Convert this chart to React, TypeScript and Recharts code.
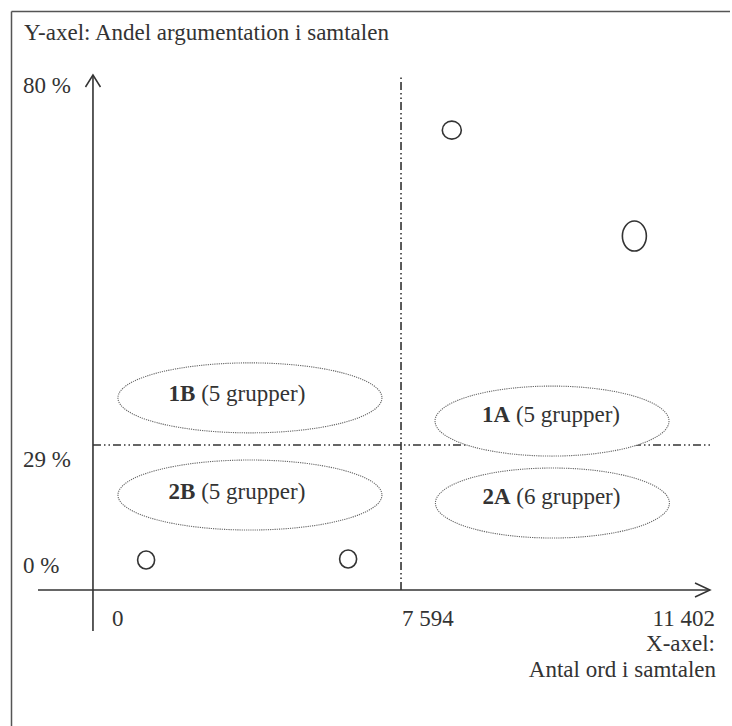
import { ScatterChart, Scatter, XAxis, YAxis, ReferenceLine } from "recharts";

const FONT = '"Liberation Serif", "Times New Roman", serif';
const INK = "#333";

// quadrant groups: x = antal ord i samtalen, y = andel argumentation (%)
const groupNames = ["1B", "1A", "2B", "2A"];
const groupSizes = [5, 5, 5, 6];
const groupWords = [3870, 9455, 3870, 9460];
const groupShare = [35.5, 32.3, 19.0, 17.4];

// single groups drawn as small circles
const outlierWords = [1310, 6290, 8220, 10470];
const outlierShare = [6.0, 6.2, 72.4, 57.8];

const xTicks = [0, 7594, 11402];
const yTicks = [0, 29, 80];
const medianWords = 7594;
const medianShare = 29;

// --- layout ---
const W = 732;
const H = 726;
const MARGIN = { top: 75, right: 22, bottom: 93, left: 36 };

// the figure is not drawn to scale: where each tick value sits along the plot (0..1)
const X_POS = [0.0818, 0.5402, 1];
const Y_POS = [0.0737, 0.3345, 1];

const spanThrough = (v0: number, f0: number, v1: number, f1: number): [number, number] => {
  const k = (v1 - v0) / (f1 - f0);
  return [v0 - f0 * k, v0 + (1 - f0) * k];
};

const X_DOMAIN = {
  lo: spanThrough(xTicks[0], X_POS[0], xTicks[1], X_POS[1]),
  hi: spanThrough(xTicks[1], X_POS[1], xTicks[2], X_POS[2]),
};
const Y_DOMAIN = {
  lo: spanThrough(yTicks[0], Y_POS[0], yTicks[1], Y_POS[1]),
  hi: spanThrough(yTicks[1], Y_POS[1], yTicks[2], Y_POS[2]),
};

type Side = "lo" | "hi";
const SIDES: Side[] = ["lo", "hi"];
const sideX = (v: number): Side => (v < medianWords ? "lo" : "hi");
const sideY = (v: number): Side => (v < medianShare ? "lo" : "hi");
const COMBOS: [Side, Side][] = [
  ["lo", "lo"],
  ["lo", "hi"],
  ["hi", "lo"],
  ["hi", "hi"],
];

const groups = groupNames.map((name, i) => ({ name, size: groupSizes[i], x: groupWords[i], y: groupShare[i] }));
const outliers = outlierWords.map((x, i) => ({ id: i, x, y: outlierShare[i] }));

const medianH = [
  { x: 0, y: medianShare },
  { x: X_DOMAIN.lo[1], y: medianShare },
];
const medianV = [
  { x: medianWords, y: 0 },
  { x: medianWords, y: Y_DOMAIN.lo[1] },
];

const fmtNum = (v: number) => String(v).replace(/\B(?=(\d{3})+(?!\d))/g, " ");

// styles
const DASH_DOT = "8 3 1.5 3 1.5 3";
const MEDIAN_LINE = { stroke: INK, strokeWidth: 1.6, strokeDasharray: DASH_DOT };
const X_TICK_STYLE = [
  { anchor: "start", dx: 19 },
  { anchor: "start", dx: 1 },
  { anchor: "end", dx: 5 },
];
const X_TICK_BASELINE = 626;
const Y_TICK_DY = [-17, 22, 18];
const Y_TICK_X = 23;
const ELLIPSE_STYLE: Record<string, { rx: number; ry: number; dx: number; dy: number }> = {
  B: { rx: 132, ry: 35, dx: -13, dy: 3.5 },
  A: { rx: 117, ry: 35, dx: -1, dy: 0.5 },
};
const OUTLIER_R = [
  [8.5, 9],
  [8.5, 9],
  [9.5, 9],
  [12, 15],
];

const XTick = (p: any) => {
  const i = xTicks.indexOf(p.payload.value);
  const st = X_TICK_STYLE[i];
  return (
    <text x={p.x + st.dx} y={X_TICK_BASELINE} textAnchor={st.anchor} fontFamily={FONT} fontSize={23} fill={INK}>
      {fmtNum(p.payload.value)}
    </text>
  );
};

const YTick = (p: any) => {
  const i = yTicks.indexOf(p.payload.value);
  return (
    <text x={Y_TICK_X} y={p.y + Y_TICK_DY[i]} textAnchor="start" fontFamily={FONT} fontSize={23} fill={INK}>
      {`${p.payload.value} %`}
    </text>
  );
};

const HArrow = (p: any) => {
  const x1 = Math.min(p.x1, p.x2);
  const x2 = Math.max(p.x1, p.x2);
  const y = p.y1;
  return (
    <g>
      <line x1={x1} y1={y} x2={x2} y2={y} stroke={INK} strokeWidth={1.6} />
      <polyline points={`${x2 - 15},${y - 7} ${x2},${y} ${x2 - 15},${y + 7}`} fill="none" stroke={INK} strokeWidth={1.5} />
    </g>
  );
};

const VArrow = (p: any) => {
  const y1 = Math.min(p.y1, p.y2);
  const y2 = Math.max(p.y1, p.y2);
  const x = p.x1;
  return (
    <g>
      <line x1={x} y1={y1} x2={x} y2={y2} stroke={INK} strokeWidth={1.6} />
      <polyline points={`${x - 7.5},${y1 + 12} ${x},${y1} ${x + 7.5},${y1 + 12}`} fill="none" stroke={INK} strokeWidth={1.5} />
    </g>
  );
};

const NoDot = () => <g />;

// ellipses are filled white so the median line disappears behind 1A, as in the original
const GroupShape = (p: any) => {
  const { name, size } = p.payload;
  const st = ELLIPSE_STYLE[name.endsWith("B") ? "B" : "A"];
  return (
    <g>
      <ellipse cx={p.cx} cy={p.cy} rx={st.rx} ry={st.ry} fill="#fff" stroke="#666" strokeWidth={1.1} strokeDasharray="1.2 1" />
      <text x={p.cx + st.dx} y={p.cy + st.dy} textAnchor="middle" fontFamily={FONT} fontSize={23} fill={INK}>
        <tspan fontWeight="bold">{name}</tspan> ({size} grupper)
      </text>
    </g>
  );
};

const OutlierShape = (p: any) => {
  const [rx, ry] = OUTLIER_R[p.payload.id];
  return <ellipse cx={p.cx} cy={p.cy} rx={rx} ry={ry} fill="none" stroke={INK} strokeWidth={1.6} />;
};

// same axes in both layers so the plot areas line up
const axes = (withTicks: boolean) => [
  ...SIDES.map((s) => (
    <XAxis
      key={`x-${s}`}
      xAxisId={s}
      type="number"
      dataKey="x"
      domain={X_DOMAIN[s]}
      allowDataOverflow
      ticks={xTicks.filter((v) => (s === "lo" ? v <= medianWords : v > medianWords))}
      interval={0}
      height={1}
      axisLine={false}
      tickLine={false}
      tick={withTicks ? XTick : false}
    />
  )),
  ...SIDES.map((s) => (
    <YAxis
      key={`y-${s}`}
      yAxisId={s}
      type="number"
      dataKey="y"
      domain={Y_DOMAIN[s]}
      allowDataOverflow
      ticks={yTicks.filter((v) => (s === "lo" ? v <= medianShare : v > medianShare))}
      interval={0}
      width={1}
      axisLine={false}
      tickLine={false}
      tick={withTicks ? YTick : false}
    />
  )),
];

const layer: React.CSSProperties = { position: "absolute", left: 0, top: 0 };

export default function App() {
  return (
    <div style={{ ...layer, width: W, height: H, background: "#fff" }}>
      <svg width={W} height={H} style={layer}>
        <line x1={11.5} y1={11.5} x2={730} y2={11.5} stroke="#555" strokeWidth={1.5} />
        <line x1={11.5} y1={11.5} x2={11.5} y2={H} stroke="#555" strokeWidth={1.5} />
        <text x={24} y={40} fontFamily={FONT} fontSize={23} fill={INK}>
          Y-axel: Andel argumentation i samtalen
        </text>
        <text x={715} y={651} textAnchor="end" fontFamily={FONT} fontSize={23} fill={INK}>
          X-axel:
        </text>
        <text x={716} y={677} textAnchor="end" fontFamily={FONT} fontSize={23} fill={INK}>
          Antal ord i samtalen
        </text>
      </svg>

      {/* bottom layer: axes, ticks and median lines */}
      <div style={layer}>
        <ScatterChart width={W} height={H} margin={MARGIN}>
          {axes(true)}
          <ReferenceLine xAxisId="lo" yAxisId="lo" y={0} shape={HArrow} />
          <ReferenceLine xAxisId="lo" yAxisId="lo" x={0} shape={VArrow} />
          <Scatter xAxisId="lo" yAxisId="lo" data={medianH} line={MEDIAN_LINE} shape={NoDot} isAnimationActive={false} />
          <Scatter xAxisId="lo" yAxisId="lo" data={medianV} line={MEDIAN_LINE} shape={NoDot} isAnimationActive={false} />
        </ScatterChart>
      </div>

      {/* top layer: group ellipses and single groups */}
      <div style={layer}>
        <ScatterChart width={W} height={H} margin={MARGIN}>
          {axes(false)}
          {COMBOS.map(([sx, sy]) => (
            <Scatter
              key={`g-${sx}-${sy}`}
              xAxisId={sx}
              yAxisId={sy}
              data={groups.filter((d) => sideX(d.x) === sx && sideY(d.y) === sy)}
              shape={GroupShape}
              isAnimationActive={false}
            />
          ))}
          {COMBOS.map(([sx, sy]) => (
            <Scatter
              key={`o-${sx}-${sy}`}
              xAxisId={sx}
              yAxisId={sy}
              data={outliers.filter((d) => sideX(d.x) === sx && sideY(d.y) === sy)}
              shape={OutlierShape}
              isAnimationActive={false}
            />
          ))}
        </ScatterChart>
      </div>
    </div>
  );
}
